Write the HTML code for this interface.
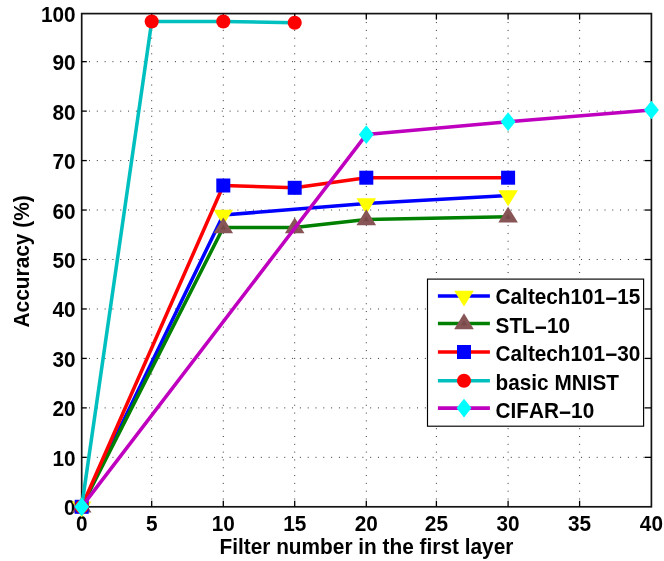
<!DOCTYPE html>
<html><head><meta charset="utf-8"><title>chart</title>
<style>
html,body{margin:0;padding:0;background:#fff;}
body{width:664px;height:561px;overflow:hidden;font-family:"Liberation Sans",sans-serif;}
svg{display:block;will-change:transform;}
text{font-kerning:none;font-variant-ligatures:none;}
</style></head><body>
<svg width="664" height="561" viewBox="0 0 664 561">
<rect x="0" y="0" width="664" height="561" fill="#fff"/>
<g stroke="#000" stroke-width="1" stroke-dasharray="1.0 6.81" stroke-dashoffset="0.5" fill="none" opacity="0.8">
<line x1="151.70" y1="506.80" x2="151.70" y2="13.60"/>
<line x1="223.30" y1="506.80" x2="223.30" y2="13.60"/>
<line x1="294.70" y1="506.80" x2="294.70" y2="13.60"/>
<line x1="366.30" y1="506.80" x2="366.30" y2="13.60"/>
<line x1="436.40" y1="506.80" x2="436.40" y2="13.60"/>
<line x1="508.10" y1="506.80" x2="508.10" y2="13.60"/>
<line x1="579.60" y1="506.80" x2="579.60" y2="13.60"/>
<line x1="81.70" y1="457.34" x2="651.40" y2="457.34"/>
<line x1="81.70" y1="407.88" x2="651.40" y2="407.88"/>
<line x1="81.70" y1="358.42" x2="651.40" y2="358.42"/>
<line x1="81.70" y1="308.96" x2="651.40" y2="308.96"/>
<line x1="81.70" y1="259.50" x2="651.40" y2="259.50"/>
<line x1="81.70" y1="210.04" x2="651.40" y2="210.04"/>
<line x1="81.70" y1="160.58" x2="651.40" y2="160.58"/>
<line x1="81.70" y1="111.12" x2="651.40" y2="111.12"/>
<line x1="81.70" y1="61.66" x2="651.40" y2="61.66"/>
</g>
<rect x="81.70" y="13.60" width="569.70" height="493.20" fill="none" stroke="#141414" stroke-width="1.7"/>
<g stroke="#000" stroke-width="1.3">
<line x1="151.70" y1="506.80" x2="151.70" y2="500.80"/>
<line x1="151.70" y1="13.60" x2="151.70" y2="19.60"/>
<line x1="223.30" y1="506.80" x2="223.30" y2="500.80"/>
<line x1="223.30" y1="13.60" x2="223.30" y2="19.60"/>
<line x1="294.70" y1="506.80" x2="294.70" y2="500.80"/>
<line x1="294.70" y1="13.60" x2="294.70" y2="19.60"/>
<line x1="366.30" y1="506.80" x2="366.30" y2="500.80"/>
<line x1="366.30" y1="13.60" x2="366.30" y2="19.60"/>
<line x1="436.40" y1="506.80" x2="436.40" y2="500.80"/>
<line x1="436.40" y1="13.60" x2="436.40" y2="19.60"/>
<line x1="508.10" y1="506.80" x2="508.10" y2="500.80"/>
<line x1="508.10" y1="13.60" x2="508.10" y2="19.60"/>
<line x1="579.60" y1="506.80" x2="579.60" y2="500.80"/>
<line x1="579.60" y1="13.60" x2="579.60" y2="19.60"/>
<line x1="81.70" y1="457.34" x2="86.80" y2="457.34"/>
<line x1="651.40" y1="457.34" x2="644.80" y2="457.34"/>
<line x1="81.70" y1="407.88" x2="86.80" y2="407.88"/>
<line x1="651.40" y1="407.88" x2="644.80" y2="407.88"/>
<line x1="81.70" y1="358.42" x2="86.80" y2="358.42"/>
<line x1="651.40" y1="358.42" x2="644.80" y2="358.42"/>
<line x1="81.70" y1="308.96" x2="86.80" y2="308.96"/>
<line x1="651.40" y1="308.96" x2="644.80" y2="308.96"/>
<line x1="81.70" y1="259.50" x2="86.80" y2="259.50"/>
<line x1="651.40" y1="259.50" x2="644.80" y2="259.50"/>
<line x1="81.70" y1="210.04" x2="86.80" y2="210.04"/>
<line x1="651.40" y1="210.04" x2="644.80" y2="210.04"/>
<line x1="81.70" y1="160.58" x2="86.80" y2="160.58"/>
<line x1="651.40" y1="160.58" x2="644.80" y2="160.58"/>
<line x1="81.70" y1="111.12" x2="86.80" y2="111.12"/>
<line x1="651.40" y1="111.12" x2="644.80" y2="111.12"/>
<line x1="81.70" y1="61.66" x2="86.80" y2="61.66"/>
<line x1="651.40" y1="61.66" x2="644.80" y2="61.66"/>
</g>
<g font-family="Liberation Sans, sans-serif" font-weight="bold" font-size="22.4px" fill="#000">
<text transform="translate(81.70,531.00) scale(0.927,1)" text-anchor="middle" font-size="22.4px">0</text>
<text transform="translate(151.70,531.00) scale(0.927,1)" text-anchor="middle" font-size="22.4px">5</text>
<text transform="translate(223.30,531.00) scale(0.927,1)" text-anchor="middle" font-size="22.4px">10</text>
<text transform="translate(294.70,531.00) scale(0.927,1)" text-anchor="middle" font-size="22.4px">15</text>
<text transform="translate(366.30,531.00) scale(0.927,1)" text-anchor="middle" font-size="22.4px">20</text>
<text transform="translate(436.40,531.00) scale(0.927,1)" text-anchor="middle" font-size="22.4px">25</text>
<text transform="translate(508.10,531.00) scale(0.927,1)" text-anchor="middle" font-size="22.4px">30</text>
<text transform="translate(579.60,531.00) scale(0.927,1)" text-anchor="middle" font-size="22.4px">35</text>
<text transform="translate(651.40,531.00) scale(0.927,1)" text-anchor="middle" font-size="22.4px">40</text>
<text transform="translate(75.60,515.30) scale(0.927,1)" text-anchor="end" font-size="22.4px">0</text>
<text transform="translate(75.60,465.84) scale(0.927,1)" text-anchor="end" font-size="22.4px">10</text>
<text transform="translate(75.60,416.38) scale(0.927,1)" text-anchor="end" font-size="22.4px">20</text>
<text transform="translate(75.60,366.92) scale(0.927,1)" text-anchor="end" font-size="22.4px">30</text>
<text transform="translate(75.60,317.46) scale(0.927,1)" text-anchor="end" font-size="22.4px">40</text>
<text transform="translate(75.60,268.00) scale(0.927,1)" text-anchor="end" font-size="22.4px">50</text>
<text transform="translate(75.60,218.54) scale(0.927,1)" text-anchor="end" font-size="22.4px">60</text>
<text transform="translate(75.60,169.08) scale(0.927,1)" text-anchor="end" font-size="22.4px">70</text>
<text transform="translate(75.60,119.62) scale(0.927,1)" text-anchor="end" font-size="22.4px">80</text>
<text transform="translate(75.60,70.16) scale(0.927,1)" text-anchor="end" font-size="22.4px">90</text>
<text transform="translate(75.60,22.30) scale(0.927,1)" text-anchor="end" font-size="22.4px">100</text>
<text transform="translate(366.40,553.70) scale(0.93,1)" text-anchor="middle" font-size="22.4px">Filter number in the first layer</text>
<text transform="translate(29.20,261.40) rotate(-90) scale(0.932,1)" text-anchor="middle" font-size="22.4px">Accuracy (%)</text>
</g>
<polyline points="81.70,506.80 223.30,215.00 366.30,203.60 508.10,195.60" fill="none" stroke="#0000ff" stroke-width="3.55" stroke-linejoin="round" stroke-linecap="butt"/>
<polygon points="71.90,501.50 91.50,501.50 81.70,517.40" fill="#ffff00"/>
<polygon points="213.50,209.70 233.10,209.70 223.30,225.60" fill="#ffff00"/>
<polygon points="356.50,198.30 376.10,198.30 366.30,214.20" fill="#ffff00"/>
<polygon points="498.30,190.30 517.90,190.30 508.10,206.20" fill="#ffff00"/>
<polyline points="81.70,506.80 223.30,227.50 294.70,227.50 366.30,219.40 508.10,216.80" fill="none" stroke="#008000" stroke-width="3.55" stroke-linejoin="round" stroke-linecap="butt"/>
<polygon points="71.90,512.60 91.50,512.60 81.70,496.70" fill="#875555"/>
<polygon points="78.80,508.70 84.60,508.70 81.70,503.90" fill="#774848"/>
<polygon points="213.50,233.30 233.10,233.30 223.30,217.40" fill="#875555"/>
<polygon points="220.40,229.40 226.20,229.40 223.30,224.60" fill="#774848"/>
<polygon points="284.90,233.30 304.50,233.30 294.70,217.40" fill="#875555"/>
<polygon points="291.80,229.40 297.60,229.40 294.70,224.60" fill="#774848"/>
<polygon points="356.50,225.20 376.10,225.20 366.30,209.30" fill="#875555"/>
<polygon points="363.40,221.30 369.20,221.30 366.30,216.50" fill="#774848"/>
<polygon points="498.30,222.60 517.90,222.60 508.10,206.70" fill="#875555"/>
<polygon points="505.20,218.70 511.00,218.70 508.10,213.90" fill="#774848"/>
<polyline points="81.70,506.80 223.30,185.50 294.70,187.80 366.30,177.70 508.10,177.70" fill="none" stroke="#ff0000" stroke-width="3.55" stroke-linejoin="round" stroke-linecap="butt"/>
<rect x="74.70" y="499.80" width="14.0" height="14.0" fill="#0000ff"/>
<rect x="216.30" y="178.50" width="14.0" height="14.0" fill="#0000ff"/>
<rect x="287.70" y="180.80" width="14.0" height="14.0" fill="#0000ff"/>
<rect x="359.30" y="170.70" width="14.0" height="14.0" fill="#0000ff"/>
<rect x="501.10" y="170.70" width="14.0" height="14.0" fill="#0000ff"/>
<polyline points="81.70,506.80 151.70,21.50 223.30,21.50 294.70,22.70" fill="none" stroke="#00bfbf" stroke-width="3.55" stroke-linejoin="round" stroke-linecap="butt"/>
<circle cx="81.70" cy="506.80" r="7.05" fill="#ff0000"/>
<circle cx="151.70" cy="21.50" r="7.05" fill="#ff0000"/>
<circle cx="223.30" cy="21.50" r="7.05" fill="#ff0000"/>
<circle cx="294.70" cy="22.70" r="7.05" fill="#ff0000"/>
<polyline points="81.70,506.80 366.30,134.60 508.10,121.70 651.40,110.00" fill="none" stroke="#bf00bf" stroke-width="3.55" stroke-linejoin="round" stroke-linecap="butt"/>
<polygon points="74.25,506.80 81.70,497.45 89.15,506.80 81.70,516.15" fill="#00ffff"/>
<polygon points="358.85,134.60 366.30,125.25 373.75,134.60 366.30,143.95" fill="#00ffff"/>
<polygon points="500.65,121.70 508.10,112.35 515.55,121.70 508.10,131.05" fill="#00ffff"/>
<polygon points="643.95,110.00 651.40,100.65 658.85,110.00 651.40,119.35" fill="#00ffff"/>
<rect x="427.5" y="279.1" width="216.10" height="147.10" fill="#fff" stroke="#000" stroke-width="1.15"/>
<g font-family="Liberation Sans, sans-serif" font-weight="bold" font-size="22.4px" fill="#000">
<text transform="translate(495.60,304.15) scale(0.927,1)" text-anchor="start" font-size="22.4px">Caltech101<tspan dy="1.6">−</tspan><tspan dy="-1.6">15</tspan></text>
<text transform="translate(495.60,333.10) scale(0.927,1)" text-anchor="start" font-size="22.4px">STL<tspan dy="1.6">−</tspan><tspan dy="-1.6">10</tspan></text>
<text transform="translate(495.60,360.80) scale(0.927,1)" text-anchor="start" font-size="22.4px">Caltech101<tspan dy="1.6">−</tspan><tspan dy="-1.6">30</tspan></text>
<text transform="translate(495.60,389.50) scale(0.927,1)" text-anchor="start" font-size="22.4px">basic MNIST</text>
<text transform="translate(495.60,418.10) scale(0.927,1)" text-anchor="start" font-size="22.4px">CIFAR<tspan dy="1.6">−</tspan><tspan dy="-1.6">10</tspan></text>
</g>
<line x1="437.9" y1="296.0" x2="489.9" y2="296.0" stroke="#0000ff" stroke-width="3.55"/>
<polygon points="454.20,290.70 473.80,290.70 464.00,306.60" fill="#ffff00"/>
<line x1="437.9" y1="323.4" x2="489.9" y2="323.4" stroke="#008000" stroke-width="3.55"/>
<polygon points="454.20,329.20 473.80,329.20 464.00,313.30" fill="#875555"/>
<polygon points="461.10,325.30 466.90,325.30 464.00,320.50" fill="#774848"/>
<line x1="437.9" y1="352.0" x2="489.9" y2="352.0" stroke="#ff0000" stroke-width="3.55"/>
<rect x="457.00" y="345.00" width="14.0" height="14.0" fill="#0000ff"/>
<line x1="437.9" y1="380.8" x2="489.9" y2="380.8" stroke="#00bfbf" stroke-width="3.55"/>
<circle cx="464.00" cy="380.80" r="7.05" fill="#ff0000"/>
<line x1="437.9" y1="408.1" x2="489.9" y2="408.1" stroke="#bf00bf" stroke-width="3.55"/>
<polygon points="456.55,408.10 464.00,398.75 471.45,408.10 464.00,417.45" fill="#00ffff"/>
</svg>
</body></html>
